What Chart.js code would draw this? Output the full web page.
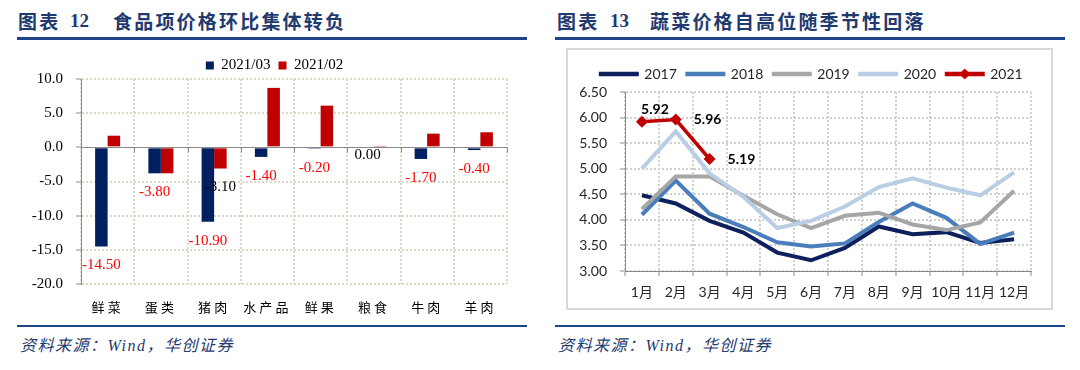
<!DOCTYPE html>
<html lang="zh">
<head>
<meta charset="UTF-8">
<title>食品项价格环比 / 蔬菜价格</title>
<script src="https://cdn.jsdelivr.net/npm/chart.js"></script>
<style>
  body { margin: 0; width: 1080px; height: 370px; background: #fff; position: relative; overflow: hidden; font-family: "Noto Sans CJK SC", sans-serif; }
  .title { position: absolute; top: 11px; font-size: 19px; line-height: 20px; font-weight: bold; color: #1f3a6e; letter-spacing: 2.2px; white-space: nowrap; }
  .num { font-family: "Liberation Serif", serif; letter-spacing: 0; }
  .rule { position: absolute; background: #1f4487; }
  .source { position: absolute; top: 334px; font-size: 16px; line-height: 20px; font-style: italic; color: #1f3a6e; letter-spacing: 1.5px; white-space: nowrap; }
  .source i { font-family: "Liberation Serif", serif; }
  .box { position: absolute; left: 566px; top: 48px; width: 483px; height: 258px; border: 2px solid #d9d9d9; }
  .chart { position: absolute; }
</style>
</head>
<body>
  <div class="title" style="left:18px">图表</div>
  <div class="title num" style="left:70px">12</div>
  <div class="title" style="left:113px">食品项价格环比集体转负</div>
  <div class="rule" style="left:17px; top:37px; width:510px; height:3px"></div>

  <div class="title" style="left:557px">图表</div>
  <div class="title num" style="left:610px">13</div>
  <div class="title" style="left:650px">蔬菜价格自高位随季节性回落</div>
  <div class="rule" style="left:555px; top:37px; width:510px; height:3px"></div>

  <div class="chart" style="left:20px; top:50px; width:510px; height:269px"><canvas id="foodChart"></canvas></div>

  <div class="box"></div>
  <div class="chart" style="left:568px; top:50px; width:482px; height:251px"><canvas id="vegChart"></canvas></div>

  <div class="rule" style="left:17px; top:325px; width:510px; height:2px"></div>
  <div class="rule" style="left:555px; top:325px; width:510px; height:2px"></div>
  <div class="source" style="left:20px">资料来源：<i>Wind</i>，华创证券</div>
  <div class="source" style="left:558px">资料来源：<i>Wind</i>，华创证券</div>

<script>
// 图表12 数据
const foodCats = ['鲜菜', '蛋类', '猪肉', '水产品', '鲜果', '粮食', '牛肉', '羊肉'];
const mar2021 = [-14.5, -3.8, -10.9, -1.4, -0.2, 0.0, -1.7, -0.4];
const feb2021 = [1.7, -3.8, -3.1, 8.7, 6.1, 0.2, 2.0, 2.2];

// 图表13 数据
const months = ['1月', '2月', '3月', '4月', '5月', '6月', '7月', '8月', '9月', '10月', '11月', '12月'];
const veg2017 = [4.48, 4.32, 3.98, 3.75, 3.36, 3.21, 3.45, 3.87, 3.72, 3.76, 3.55, 3.62];
const veg2018 = [4.10, 4.77, 4.12, 3.86, 3.56, 3.48, 3.54, 3.96, 4.32, 4.04, 3.53, 3.75];
const veg2019 = [4.21, 4.85, 4.85, 4.47, 4.11, 3.84, 4.08, 4.14, 3.91, 3.80, 3.95, 4.57];
const veg2020 = [5.00, 5.73, 4.91, 4.45, 3.84, 3.98, 4.26, 4.64, 4.81, 4.63, 4.48, 4.93];
const veg2021 = [5.92, 5.96, 5.19];

const serif = '"Liberation Serif", "Noto Sans CJK SC", serif';
const sans = 'Lato, "Noto Sans CJK SC", sans-serif';

// nudge the legend: height so the plot top lands where it should, dx to re-centre it
const legendGap = {
    id: 'legendGap',
    beforeInit(chart, args, opts) {
        const fit = chart.legend.fit;
        chart.legend.fit = function () {
            fit.call(this);
            this.height += opts.px || 0;
        };
    },
    afterLayout(chart, args, opts) {
        chart.legend.left += opts.dx || 0;
        chart.legend.right += opts.dx || 0;
    }
};

// zero line with small ticks at the category edges
const zeroLine = {
    id: 'zeroLine',
    beforeDatasetsDraw(chart) {
        const {ctx, scales: {x, y}} = chart;
        const y0 = Math.round(y.getPixelForValue(0)) + 0.5;
        const n = x.ticks.length;
        ctx.save();
        ctx.strokeStyle = '#898989';
        ctx.lineWidth = 1;
        ctx.beginPath();
        ctx.moveTo(x.left, y0);
        ctx.lineTo(x.right, y0);
        for (let i = 0; i <= n; i++) {
            const px = Math.round(x.left + i * x.width / n) + 0.5;
            ctx.moveTo(px, y0);
            ctx.lineTo(px, y0 + 5);
        }
        ctx.stroke();
        ctx.restore();
    }
};

// spaced-out category labels
const tickSpacing = {
    id: 'tickSpacing',
    afterUpdate(chart, args, opts) {
        const s = chart.scales.x;
        if (s._spaced) return;
        const draw = s.drawLabels;
        s.drawLabels = function (area) {
            this.ctx.save();
            this.ctx.letterSpacing = opts.spacing;
            draw.call(this, area);
            this.ctx.restore();
        };
        s._spaced = true;
    }
};

// value labels under the bars
const barLabels = {
    id: 'barLabels',
    afterDatasetsDraw(chart, args, opts) {
        const ctx = chart.ctx;
        ctx.save();
        ctx.font = opts.font;
        ctx.textAlign = 'center';
        ctx.textBaseline = 'middle';
        opts.items.forEach(item => {
            const meta = chart.getDatasetMeta(item.ds);
            const data = chart.data.datasets[item.ds].data;
            item.idx.forEach(i => {
                const bar = meta.data[i];
                const v = data[i];
                let y = bar.y + opts.gap;
                if (v === 0) y = bar.y + 8;
                if (v > 0) y = bar.y - opts.gap;
                ctx.fillStyle = (item.ds === 0 && v !== 0) ? '#ff0000' : '#000000';
                ctx.fillText(v.toFixed(2), bar.x, y);
            });
        });
        ctx.restore();
    }
};

// value labels beside the 2021 points
const pointLabels = {
    id: 'pointLabels',
    afterDatasetsDraw(chart, args, opts) {
        const ctx = chart.ctx;
        const meta = chart.getDatasetMeta(opts.ds);
        const data = chart.data.datasets[opts.ds].data;
        ctx.save();
        ctx.font = opts.font;
        ctx.fillStyle = '#000';
        ctx.textBaseline = 'middle';
        meta.data.forEach((pt, i) => {
            if (opts.place[i] === 'top') {
                ctx.textAlign = 'center';
                ctx.fillText(data[i].toFixed(2), pt.x + 13, pt.y - 12);
            } else {
                ctx.textAlign = 'left';
                ctx.fillText(data[i].toFixed(2), pt.x + 18, pt.y);
            }
        });
        ctx.restore();
    }
};

new Chart(document.getElementById('foodChart'), {
    type: 'bar',
    data: {
        labels: foodCats,
        datasets: [
            { label: '2021/03', data: mar2021, backgroundColor: '#002060' },
            { label: '2021/02', data: feb2021, backgroundColor: '#c00000' }
        ]
    },
    options: {
        responsive: true,
        maintainAspectRatio: false,
        animation: false,
        layout: { padding: { left: 0, right: 23, top: 0, bottom: 0 } },
        datasets: { bar: { categoryPercentage: 0.47, barPercentage: 1.0 } },
        plugins: {
            legend: {
                labels: {
                    boxWidth: 8, boxHeight: 8, padding: 8, color: '#000',
                    font: { family: serif, size: 15 }
                }
            },
            tooltip: { enabled: false },
            legendGap: { px: -4, dx: 11 },
            tickSpacing: { spacing: '3px' },
            barLabels: {
                font: '15px ' + serif,
                gap: 19,
                items: [
                    { ds: 0, idx: [0, 1, 2, 3, 4, 5, 6, 7] },
                    { ds: 1, idx: [2] }
                ]
            }
        },
        scales: {
            x: {
                afterFit: s => { s.height = 35; },
                grid: { color: '#dcd8c6', lineWidth: 2, drawTicks: false, offset: true },
                border: { display: false, dash: [2, 2] },
                ticks: { padding: 15, maxRotation: 0, autoSkip: false, color: '#000', font: { family: '"Noto Sans CJK SC"', size: 13 } }
            },
            y: {
                min: -20, max: 10,
                afterFit: s => { s.width = 61; },
                grid: {
                    color: ctx => ctx.tick && ctx.tick.value === 0 ? 'rgba(0,0,0,0)' : '#dcd8c6',
                    lineWidth: 2, tickLength: 5, tickColor: '#898989', tickWidth: 1, tickBorderDash: []
                },
                border: { display: true, color: '#898989', width: 1, dash: [2, 2] },
                ticks: {
                    stepSize: 5, padding: 13, color: '#000',
                    font: { family: serif, size: 15 },
                    callback: v => v.toFixed(1)
                }
            }
        }
    },
    plugins: [legendGap, zeroLine, tickSpacing, barLabels]
});

function swatch(color, diamond) {
    const c = document.createElement('canvas');
    c.width = 42;
    c.height = 12;
    const g = c.getContext('2d');
    g.strokeStyle = color;
    g.lineWidth = 4.5;
    g.beginPath();
    g.moveTo(1, 6);
    g.lineTo(41, 6);
    g.stroke();
    if (diamond) {
        g.fillStyle = color;
        g.beginPath();
        g.moveTo(21, 0.5);
        g.lineTo(26.5, 6);
        g.lineTo(21, 11.5);
        g.lineTo(15.5, 6);
        g.closePath();
        g.fill();
    }
    return c;
}

const vegColors = ['#0d1f5c', '#4a7ebb', '#a6a6a6', '#b9cde5', '#c00000'];
const swatches = vegColors.map((c, i) => swatch(c, i === 4));

const lineSet = (label, data, i, width) => ({
    label, data,
    borderColor: vegColors[i],
    backgroundColor: vegColors[i],
    borderWidth: width,
    pointRadius: 0,
    tension: 0,
    order: 5 - i
});

const last = lineSet('2021', veg2021, 4, 3.5);
last.pointRadius = 6;
last.pointStyle = 'rectRot';
last.pointBorderWidth = 0;

new Chart(document.getElementById('vegChart'), {
    type: 'line',
    data: {
        labels: months,
        datasets: [
            lineSet('2017', veg2017, 0, 4),
            lineSet('2018', veg2018, 1, 4),
            lineSet('2019', veg2019, 2, 4),
            lineSet('2020', veg2020, 3, 4),
            last
        ]
    },
    options: {
        responsive: true,
        maintainAspectRatio: false,
        animation: false,
        layout: { padding: { left: 0, right: 19, top: 7, bottom: 0 } },
        plugins: {
            legend: {
                labels: {
                    usePointStyle: true, pointStyleWidth: 37, padding: 10, color: '#262626',
                    font: { family: sans, size: 14 },
                    sort: (a, b) => a.datasetIndex - b.datasetIndex,
                    generateLabels: chart => Chart.defaults.plugins.legend.labels.generateLabels(chart)
                        .map(item => ({ ...item, pointStyle: swatches[item.datasetIndex] }))
                }
            },
            tooltip: { enabled: false },
            legendGap: { px: 1, dx: 12 },
            pointLabels: { ds: 4, place: ['top', 'right', 'right'], font: 'bold 14px ' + sans }
        },
        scales: {
            x: {
                offset: true,
                afterFit: s => { s.height = 30; },
                grid: { offset: true, color: '#d0d0d0', lineWidth: 2, tickLength: 5, tickColor: '#898989', tickWidth: 1, tickBorderDash: [] },
                border: { display: true, color: '#898989', width: 1, dash: [2, 2] },
                ticks: { padding: 8, maxRotation: 0, minRotation: 0, autoSkip: false, color: '#262626', font: { family: sans, size: 14 } }
            },
            y: {
                min: 3, max: 6.5,
                afterFit: s => { s.width = 57; },
                grid: { color: '#d0d0d0', lineWidth: 2, tickLength: 5, tickColor: '#898989', tickWidth: 1, tickBorderDash: [] },
                border: { display: true, color: '#898989', width: 1, dash: [2, 2] },
                ticks: {
                    stepSize: 0.5, padding: 13, color: '#262626',
                    font: { family: sans, size: 14 },
                    callback: v => v.toFixed(2)
                }
            }
        }
    },
    plugins: [legendGap, pointLabels]
});
</script>
</body>
</html>
